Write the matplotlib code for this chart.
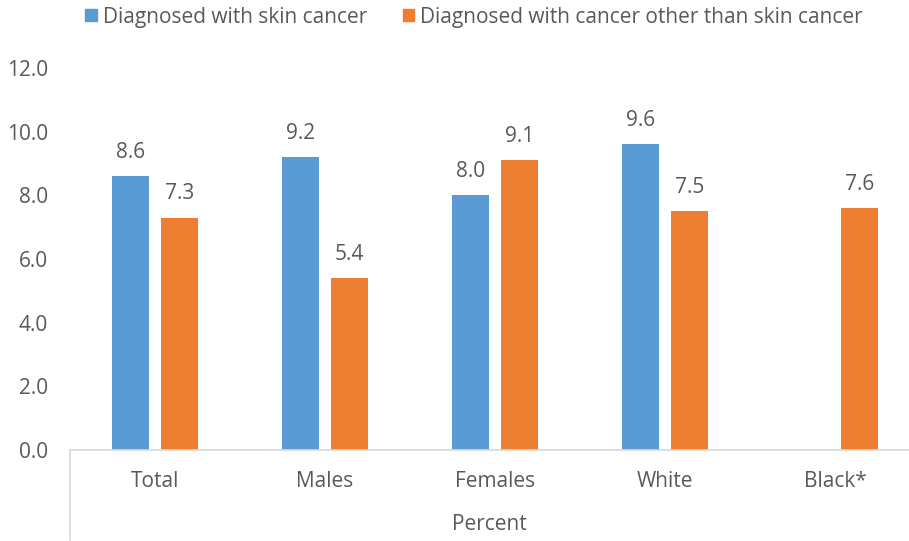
import matplotlib.pyplot as plt
import numpy as np

plt.rcParams['font.family'] = ['Open Sans', 'DejaVu Sans']

groups = ["Total", "Males", "Females", "White", "Black*"]
skin = [8.6, 9.2, 8.0, 9.6, None]
other = [7.3, 5.4, 9.1, 7.5, 7.6]
series_names = ["Diagnosed with skin cancer", "Diagnosed with cancer other than skin cancer"]

blue = "#5b9bd5"
orange = "#ed7d31"
grey = "#595959"
line = "#d9d9d9"

W, H = 909, 541
fig = plt.figure(figsize=(W / 100, H / 100), dpi=100)
ax = fig.add_axes([70 / W, 1 - 450 / H, (W - 70) / W, (450 - 68) / H])

x = np.arange(len(groups))
bw = 0.22
off = 0.144
fs = 15
for i in x:
    if skin[i] is not None:
        ax.bar(i - off, skin[i], bw, color=blue)
        ax.text(i - off, skin[i] + 0.42, f"{skin[i]:.1f}", ha="center", va="bottom",
                fontsize=fs, color=grey)
    ax.bar(i + off, other[i], bw, color=orange)
    ax.text(i + off, other[i] + 0.42, f"{other[i]:.1f}", ha="center", va="bottom",
            fontsize=fs, color=grey)

ax.set_ylim(0, 12)
ax.set_xlim(-0.5, 4.5 - 11 / 170)
ax.set_yticks(np.arange(0, 12.1, 2))
ax.set_yticklabels([f"{v:.1f}" for v in np.arange(0, 12.1, 2)])
ax.set_xticks(x)
ax.set_xticklabels(groups)
ax.tick_params(axis="both", length=0, labelsize=fs, colors=grey)
ax.tick_params(axis="y", pad=16)
ax.tick_params(axis="x", pad=15)
for s in ["top", "right", "left"]:
    ax.spines[s].set_visible(False)
ax.spines["bottom"].set_color(line)
ax.spines["bottom"].set_linewidth(1.2)

# left edge of the category axis running down past the labels
fig.add_artist(plt.Line2D([70 / W, 70 / W], [1 - 540 / H, 1 - 450 / H],
                          color=line, lw=1.2, transform=fig.transFigure))
fig.text((70 + W) / 2 / W, 1 - 524 / H, "Percent", ha="center", va="center",
         fontsize=fs, color=grey)

handles = [plt.Rectangle((0, 0), 1, 1, color=c) for c in (blue, orange)]
fig.legend(handles, series_names, loc="center", bbox_to_anchor=(474 / W, 1 - 17 / H),
           ncol=2, frameon=False, fontsize=fs, labelcolor=grey, handlelength=0.55,
           handleheight=0.55, handletextpad=0.3, columnspacing=1.7)

fig.savefig("out.png", dpi=100)
